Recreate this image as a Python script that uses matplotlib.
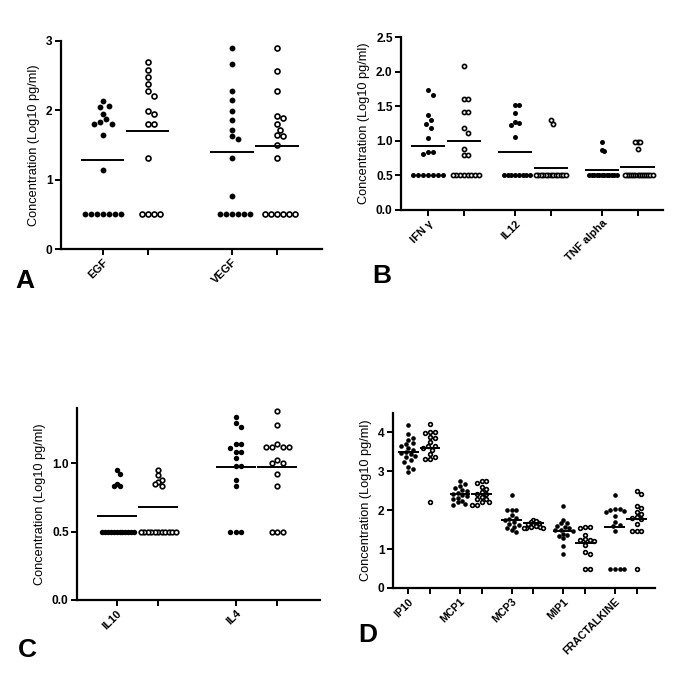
import numpy as np
import matplotlib
matplotlib.use('Agg')
import matplotlib.pyplot as plt

plt.rcParams['font.family'] = ['Liberation Sans', 'DejaVu Sans']

# ---- data ----
a_cats = ['EGF', 'VEGF']
a_filled = [
    [2.13, 2.06, 2.05, 1.95, 1.87, 1.83, 1.80, 1.80, 1.64, 1.14] + [0.5] * 7,
    [2.90, 2.66, 2.28, 2.15, 1.99, 1.86, 1.72, 1.63, 1.58, 1.31, 0.77] + [0.5] * 6,
]
a_open = [
    [2.70, 2.58, 2.47, 2.37, 2.27, 2.21, 1.99, 1.94, 1.80, 1.80, 1.31] + [0.5] * 4,
    [2.90, 2.57, 2.27, 1.91, 1.88, 1.80, 1.72, 1.64, 1.63, 1.50, 1.31] + [0.5] * 6,
]
a_mean_filled = [1.28, 1.40]
a_mean_open = [1.70, 1.49]

b_cats = ['IFN \u03b3', 'IL12', 'TNF alpha']
b_filled = [
    [1.73, 1.67, 1.37, 1.30, 1.24, 1.19, 1.04, 0.84, 0.84, 0.81] + [0.5] * 7,
    [1.52, 1.52, 1.40, 1.28, 1.26, 1.23, 1.06] + [0.5] * 8,
    [0.99, 0.875, 0.86] + [0.5] * 12,
]
b_open = [
    [2.09, 1.61, 1.61, 1.42, 1.42, 1.18, 1.12, 0.89, 0.80, 0.80] + [0.5] * 8,
    [1.30, 1.24] + [0.5] * 13,
    [0.99, 0.99, 0.99, 0.89] + [0.5] * 14,
]
b_mean_filled = [0.92, 0.84, 0.58]
b_mean_open = [1.00, 0.61, 0.625]

c_cats = ['IL10', 'IL4']
c_filled = [
    [0.95, 0.92, 0.85, 0.83, 0.83] + [0.5] * 12,
    [1.34, 1.29, 1.26, 1.14, 1.14, 1.11, 1.08, 1.08, 1.04, 0.98, 0.98,
     0.875, 0.83, 0.5, 0.5, 0.5],
]
c_open = [
    [0.95, 0.91, 0.88, 0.86, 0.85, 0.83] + [0.5] * 11,
    [1.38, 1.28, 1.14, 1.12, 1.12, 1.12, 1.12, 1.02, 1.00, 1.00, 0.92,
     0.83, 0.5, 0.5, 0.5],
]
c_mean_filled = [0.61, 0.97]
c_mean_open = [0.68, 0.97]

d_cats = ['IP10', 'MCP1', 'MCP3', 'MIP1', 'FRACTALKINE']
d_filled = [
    [4.20, 3.95, 3.87, 3.80, 3.74, 3.70, 3.65, 3.60, 3.55, 3.50, 3.48, 3.45,
     3.40, 3.36, 3.30, 3.25, 3.12, 3.05, 2.98],
    [2.76, 2.68, 2.62, 2.58, 2.52, 2.50, 2.45, 2.42, 2.40, 2.36, 2.32, 2.30,
     2.25, 2.20, 2.15, 2.13],
    [2.40, 2.00, 2.00, 2.00, 1.88, 1.80, 1.78, 1.75, 1.70, 1.65, 1.62, 1.58,
     1.55, 1.48, 1.45],
    [2.12, 1.76, 1.68, 1.66, 1.60, 1.57, 1.55, 1.50, 1.50, 1.46, 1.40, 1.37,
     1.35, 1.28, 1.09, 0.87],
    [2.40, 2.03, 2.02, 2.00, 1.98, 1.96, 1.85, 1.70, 1.62, 1.60, 1.47,
     0.5, 0.5, 0.5, 0.5],
]
d_open = [
    [4.22, 4.00, 4.00, 3.98, 3.88, 3.85, 3.75, 3.66, 3.64, 3.60, 3.55, 3.45,
     3.38, 3.33, 3.32, 2.20],
    [2.76, 2.76, 2.70, 2.60, 2.55, 2.48, 2.42, 2.42, 2.35, 2.30, 2.30, 2.20,
     2.20, 2.13, 2.13],
    [1.76, 1.72, 1.70, 1.68, 1.65, 1.62, 1.60, 1.58, 1.57, 1.55, 1.55, 1.55],
    [1.58, 1.57, 1.54, 1.37, 1.25, 1.24, 1.23, 1.20, 1.10, 0.92, 0.87,
     0.50, 0.50],
    [2.50, 2.43, 2.11, 2.05, 1.95, 1.90, 1.82, 1.80, 1.78, 1.65, 1.47, 1.47,
     1.47, 0.5],
]
d_mean_filled = [3.50, 2.42, 1.76, 1.47, 1.57]
d_mean_open = [3.60, 2.42, 1.68, 1.17, 1.78]

W, H = 685, 682
fig = plt.figure(figsize=(W / 100, H / 100), dpi=100)


def swarm(ax, center, vals, d_px, max_half_px):
    """simple beeswarm: returns x positions in data units"""
    tr = ax.transData
    ppu = tr.transform((1, 0))[0] - tr.transform((0, 0))[0]
    ys = np.array([tr.transform((center, v))[1] for v in vals])
    offs = np.zeros(len(vals))
    placed = []
    step = d_px * 0.5
    cands = [0.0] + [s * j * step for j in range(1, 80) for s in (1, -1)]
    for i in np.argsort(-np.array(vals), kind='stable'):
        y = ys[i]
        for c in cands:
            if all((c - px) ** 2 + (y - py) ** 2 >= (d_px * 0.97) ** 2
                   for px, py in placed):
                break
        placed.append((c, y))
        offs[i] = c
    m = np.abs(offs).max()
    if m > max_half_px:
        offs *= max_half_px / m
    return center + offs / ppu


def panel(box, cats, filled, opened, mf, mo, pair_step, xlim, ylim, yticks,
          fmt, ms, half_w, xfs=8):
    l, t, r, b = box
    ax = fig.add_axes([l / W, 1 - b / H, (r - l) / W, (b - t) / H])
    ax.set_xlim(*xlim)
    ax.set_ylim(*ylim)
    for s in ['top', 'right']:
        ax.spines[s].set_visible(False)
    for s in ['left', 'bottom']:
        ax.spines[s].set_linewidth(1.6)
    d_px = ms * 100 / 72 * 1.02
    tr = ax.transData
    ppu = tr.transform((1, 0))[0] - tr.transform((0, 0))[0]
    ticks = []
    for i in range(len(cats)):
        x0 = i * pair_step
        x1 = x0 + 1
        ticks += [x0, x1]
        xs = swarm(ax, x0, filled[i], d_px, half_w * ppu)
        ax.plot(xs, filled[i], 'o', color='black', ms=ms, mew=0,
                linestyle='none', clip_on=False)
        xs = swarm(ax, x1, opened[i], d_px, half_w * ppu)
        ax.plot(xs, opened[i], 'o', mfc='white', mec='black', ms=ms - 0.6,
                mew=1.2, linestyle='none', clip_on=False)
        ax.hlines(mf[i], x0 - 0.48, x0 + 0.48, color='black', lw=1.4, zorder=5)
        ax.hlines(mo[i], x1 - 0.48, x1 + 0.48, color='black', lw=1.4, zorder=5)
    ax.set_xticks(ticks)
    labels = []
    for c in cats:
        labels += [c, '']
    ax.set_xticklabels(labels, rotation=45, ha='right', rotation_mode='anchor',
                       fontsize=xfs, fontweight='bold')
    ax.set_yticks(yticks)
    ax.set_yticklabels([fmt.format(v) for v in yticks], fontsize=8.6,
                       fontweight='bold')
    ax.tick_params(axis='both', width=1.4, length=4, pad=2)
    ax.set_ylabel('Concentration (Log10 pg/ml)', fontsize=9.2, labelpad=4)
    return ax


panel((61, 40.7, 322, 249), a_cats, a_filled, a_open, a_mean_filled,
      a_mean_open, 2.87, (-0.93, 4.87), (0, 3), [0, 1, 2, 3], '{:g}', 4.2, 0.45)
panel((401, 37.3, 663, 210), b_cats, b_filled, b_open, b_mean_filled,
      b_mean_open, 2.43, (-0.76, 6.57), (0, 2.5), [0, 0.5, 1, 1.5, 2, 2.5],
      '{:.1f}', 3.6, 0.42)
panel((77, 408.3, 320, 600), c_cats, c_filled, c_open, c_mean_filled,
      c_mean_open, 2.86, (-0.95, 4.88), (0, 1.4), [0, 0.5, 1.0], '{:.1f}',
      3.9, 0.42)
panel((393, 413, 655, 588), d_cats, d_filled, d_open, d_mean_filled,
      d_mean_open, 2.38, (-0.71, 11.37), (0, 4.5), [0, 1, 2, 3, 4], '{:g}',
      3.3, 0.45, xfs=7.7)

for letter, (x, y) in zip('ABCD', [(15, 288), (372, 283), (18, 657),
                                    (358, 642)]):
    fig.text(x / W, 1 - y / H, letter, fontsize=19, fontweight='bold',
             va='baseline', ha='left')

fig.savefig('out.png', dpi=100)
